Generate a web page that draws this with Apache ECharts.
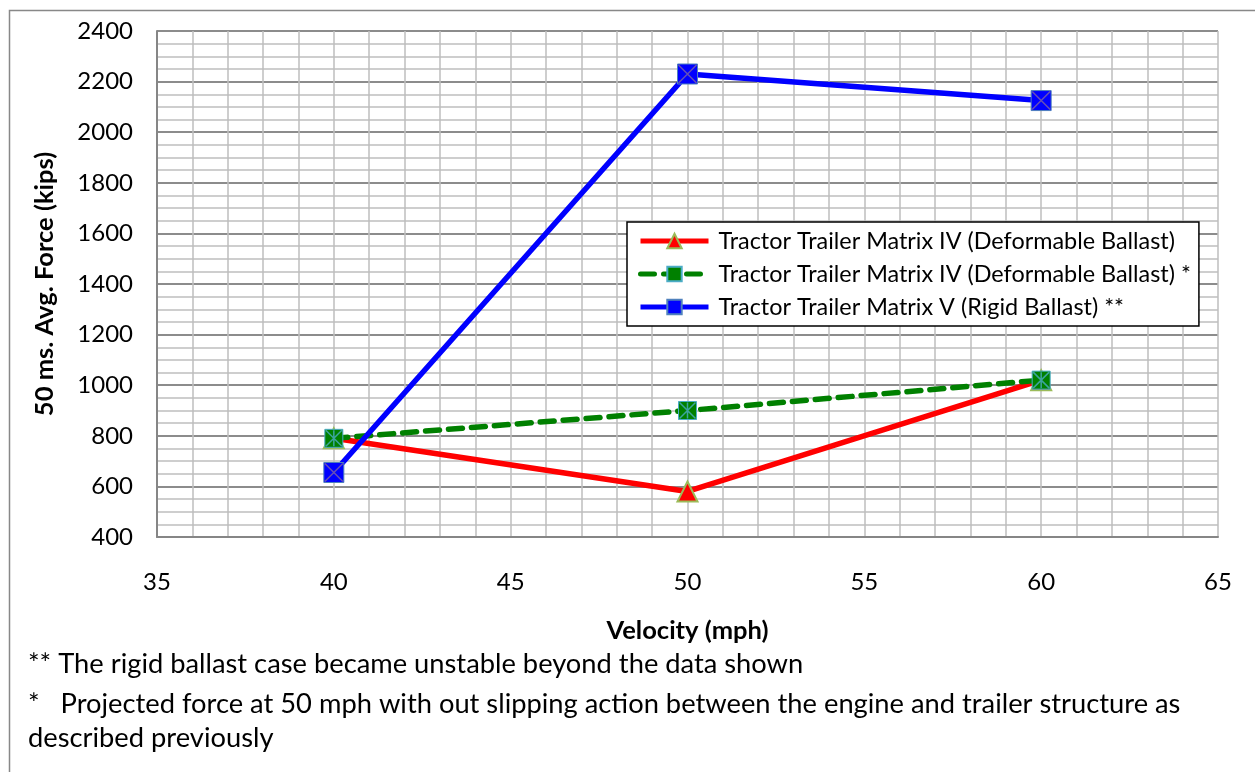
<!DOCTYPE html>
<html><head><meta charset="utf-8">
<script src="https://cdn.jsdelivr.net/npm/echarts@6/dist/echarts.min.js"></script>
<style>html,body{margin:0;padding:0;background:#fff}#c{width:1255px;height:772px}</style>
</head><body><div id="c"></div>
<script>
const velocities = [40, 50, 60];
const matrixIV = [790, 580, 1020];
const matrixIVProjected = [790, 900, 1020];
const matrixVRigid = [655, 2230, 2125];
const seriesNames = [
  'Tractor Trailer Matrix IV (Deformable Ballast)',
  'Tractor Trailer Matrix IV (Deformable Ballast) *',
  'Tractor Trailer Matrix V (Rigid Ballast) **'
];
const footnotes = [
  '** The rigid ballast case became unstable beyond the data shown',
  '*   Projected force at 50 mph with out slipping action between the engine and trailer structure as',
  'described previously'
];
const FONT = 'Lato';
const pts = arr => velocities.map((v, i) => [v, arr[i]]);
const chart = echarts.init(document.getElementById('c'), null, {renderer: 'canvas'});
const xPath = 'path://M0,0L10,10M10,0L0,10';
const starPath = 'path://M0,0L10,10M10,0L0,10M5,0L5,10';
chart.setOption({
  animation: false,
  textStyle: {fontFamily: FONT},
  grid: {left: 157, right: 37, top: 31, bottom: 235},
  xAxis: {
    type: 'value', min: 35, max: 65, interval: 5,
    name: 'Velocity (mph)', nameLocation: 'middle', nameGap: 81,
    nameTextStyle: {fontSize: 25.5, fontWeight: 'bold', color: '#000', fontFamily: FONT},
    axisLine: {show: true, lineStyle: {color: '#868686', width: 2}},
    axisTick: {show: false},
    axisLabel: {fontSize: 24, color: '#000', margin: 33, fontFamily: FONT},
    splitLine: {show: true, lineStyle: {color: '#BEBEBE', width: 1.5}},
    minorTick: {show: false, splitNumber: 5},
    minorSplitLine: {show: true, lineStyle: {color: '#BEBEBE', width: 1.5}}
  },
  yAxis: {
    type: 'value', min: 400, max: 2400, interval: 200,
    name: '50 ms. Avg. Force (kips)', nameLocation: 'middle', nameGap: 99,
    nameTextStyle: {fontSize: 25.5, fontWeight: 'bold', color: '#000', fontFamily: FONT},
    axisLine: {show: true, lineStyle: {color: '#868686', width: 2}},
    axisTick: {show: false},
    axisLabel: {fontSize: 24, color: '#000', margin: 24, fontFamily: FONT, formatter: v => String(v)},
    splitLine: {show: true, lineStyle: {color: '#8C8C8C', width: 2}},
    minorTick: {show: false, splitNumber: 4},
    minorSplitLine: {show: true, lineStyle: {color: '#BEBEBE', width: 1.5}}
  },
  legend: {
    orient: 'vertical', left: 627, top: 222,
    data: seriesNames,
    backgroundColor: '#fff', borderColor: '#000', borderWidth: 1.5,
    padding: [7, 8, 7, 11], itemGap: 9, itemWidth: 68, itemHeight: 18,
    lineStyle: {width: 5},
    textStyle: {fontSize: 23.4, color: '#000', fontFamily: FONT, lineHeight: 24, padding: [0, 0, 0, 5]}
  },
  series: [
    {
      name: seriesNames[0], type: 'line', data: pts(matrixIV), z: 3,
      lineStyle: {color: '#FF0000', width: 5.5},
      symbol: 'triangle', symbolSize: 20,
      itemStyle: {color: '#FF0000', borderColor: '#9BBB59', borderWidth: 2}
    },
    {
      name: seriesNames[1], type: 'line', data: pts(matrixIVProjected), z: 4,
      lineStyle: {color: '#008000', width: 5.5, type: [14, 9], cap: 'round'},
      symbol: 'rect', symbolSize: 18,
      itemStyle: {color: '#008000', borderColor: '#4BACC6', borderWidth: 1}
    },
    {
      name: seriesNames[2], type: 'line', data: pts(matrixVRigid), z: 5,
      lineStyle: {color: '#0000FF', width: 5.5},
      symbol: 'rect', symbolSize: 20,
      itemStyle: {color: '#0000FF', borderColor: '#4F81BD', borderWidth: 1}
    },
    {
      name: 'starOverlay', type: 'scatter', data: pts(matrixIVProjected), z: 6,
      symbol: starPath, symbolSize: 16, silent: true,
      itemStyle: {color: 'rgba(0,0,0,0)', borderColor: '#4BACC6', borderWidth: 1.5}
    },
    {
      name: 'xOverlay', type: 'scatter', data: pts(matrixVRigid), z: 7,
      symbol: xPath, symbolSize: 18, silent: true,
      itemStyle: {color: 'rgba(0,0,0,0)', borderColor: '#8064A2', borderWidth: 1.5}
    }
  ],
  graphic: [
    {type: 'rect', left: 7, top: 8, shape: {width: 1260, height: 800}, silent: true,
     style: {fill: 'none', stroke: '#888', lineWidth: 1.5}},
    {type: 'text', left: 28, top: 651, style: {text: footnotes[0], font: '27.3px "' + FONT + '"', fill: '#000'}},
    {type: 'text', left: 28, top: 691, style: {text: footnotes[1], font: '27.3px "' + FONT + '"', fill: '#000'}},
    {type: 'text', left: 28, top: 725, style: {text: footnotes[2], font: '27.3px "' + FONT + '"', fill: '#000'}}
  ]
});
</script></body></html>
